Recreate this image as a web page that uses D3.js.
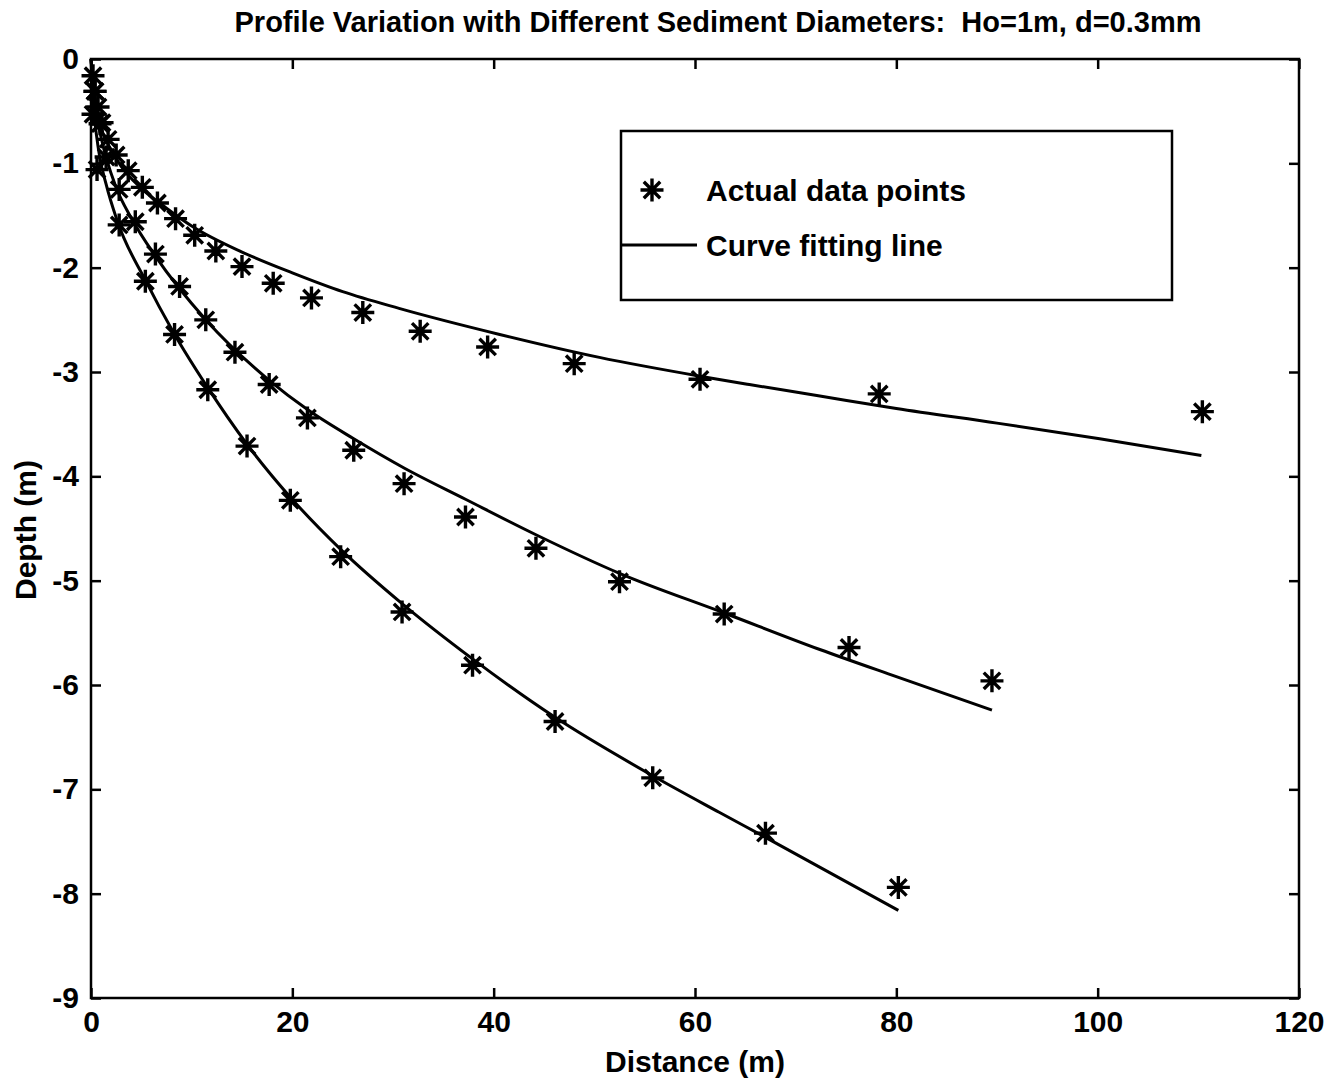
<!DOCTYPE html>
<html><head><meta charset="utf-8">
<script src="https://cdn.jsdelivr.net/npm/d3@7"></script>
<style>
body{margin:0;background:#fff}
text{font-family:"Liberation Sans",Arial,Helvetica,sans-serif;fill:#000;font-weight:bold;white-space:pre}
</style></head>
<body><svg id="chart" width="1340" height="1083"></svg>
<script>
// ---- data ----
const titleText = "Profile Variation with Different Sediment Diameters:  Ho=1m, d=0.3mm";
const xLabel = "Distance (m)";
const yLabel = "Depth (m)";
const xTicks = [0, 20, 40, 60, 80, 100, 120];
const yTicks = [0, -1, -2, -3, -4, -5, -6, -7, -8, -9];
const legendLabels = ["Actual data points", "Curve fitting line"];

// measured data points (three sediment sizes)
const ptsA_x = [0.2, 0.4, 0.7, 1.1, 1.7, 2.5, 3.7, 5.1, 6.6, 8.4, 10.3, 12.4, 15.0, 18.1, 21.9, 27.0, 32.7, 39.4, 48.0, 60.5, 78.3, 110.4];
const ptsA_y = [-0.16, -0.31, -0.46, -0.61, -0.77, -0.92, -1.07, -1.23, -1.38, -1.53, -1.69, -1.84, -1.99, -2.15, -2.29, -2.43, -2.61, -2.76, -2.92, -3.07, -3.21, -3.38];
const ptsB_x = [0.4, 0.9, 1.5, 2.8, 4.4, 6.4, 8.8, 11.4, 14.3, 17.7, 21.5, 26.1, 31.1, 37.2, 44.2, 52.5, 62.9, 75.3, 89.5];
const ptsB_y = [-0.31, -0.62, -0.94, -1.25, -1.56, -1.87, -2.18, -2.50, -2.81, -3.12, -3.44, -3.75, -4.07, -4.39, -4.69, -5.01, -5.32, -5.64, -5.96];
const ptsC_x = [0.2, 0.6, 2.8, 5.4, 8.3, 11.6, 15.5, 19.8, 24.8, 30.9, 37.9, 46.1, 55.8, 67.0, 80.2];
const ptsC_y = [-0.53, -1.06, -1.59, -2.13, -2.64, -3.17, -3.71, -4.23, -4.77, -5.30, -5.81, -6.35, -6.89, -7.42, -7.94];

// fitted curves
const fitA_x = [0, 0.5, 1, 2, 3, 5, 7.5, 10, 15, 20, 25, 30.6, 40.6, 50.5, 60.5, 65.4, 72.4, 80, 90, 100.2, 110.3];
const fitA_y = [0, -0.45, -0.66, -0.87, -1.03, -1.24, -1.43, -1.60, -1.85, -2.05, -2.23, -2.39, -2.64, -2.86, -3.04, -3.12, -3.23, -3.35, -3.49, -3.64, -3.80];
const fitB_x = [0, 0.5, 1, 2.45, 4.1, 6.4, 11.4, 17.7, 21.5, 26.1, 31.1, 37.2, 44.2, 52.5, 62.9, 72.4, 80, 89.5];
const fitB_y = [0, -0.5, -0.75, -1.22, -1.54, -1.89, -2.50, -3.08, -3.36, -3.64, -3.92, -4.22, -4.56, -4.93, -5.31, -5.66, -5.92, -6.24];
const fitC_x = [0, 0.3, 0.8, 1.5, 2.6, 5.4, 8.25, 11.6, 15.4, 19.8, 24.8, 30.9, 37.9, 46.1, 55.8, 62.4, 67.0, 80.2];
const fitC_y = [0, -0.5, -0.9, -1.2, -1.55, -2.12, -2.63, -3.15, -3.68, -4.20, -4.70, -5.22, -5.75, -6.31, -6.87, -7.22, -7.46, -8.16];

// ---- layout ----
const svg = d3.select("#chart");
const L = 91, T = 59, R = 1299, B = 998;
const x = d3.scaleLinear().domain([0, 120]).range([L, R]);
const y = d3.scaleLinear().domain([-9, 0]).range([B, T]);
const FS = 30;

const zip = (xs, ys) => xs.map((v, i) => [v, ys[i]]);

// frame
svg.append("rect").attr("x", L).attr("y", T).attr("width", R - L).attr("height", B - T)
  .attr("fill", "none").attr("stroke", "#000").attr("stroke-width", 2.5);

// axes with inward ticks
const tl = 10;
const gx = svg.append("g").attr("transform", `translate(0,${B})`)
  .call(d3.axisBottom(x).tickValues(xTicks).tickSize(-tl).tickPadding(13).tickFormat(d3.format("d")));
const gxt = svg.append("g").attr("transform", `translate(0,${T})`)
  .call(d3.axisTop(x).tickValues(xTicks).tickSize(-tl).tickFormat(""));
const gy = svg.append("g").attr("transform", `translate(${L},0)`)
  .call(d3.axisLeft(y).tickValues(yTicks).tickSize(-tl).tickPadding(12).tickFormat(d => d === 0 ? "0" : "-" + Math.abs(d)));
const gyr = svg.append("g").attr("transform", `translate(${R},0)`)
  .call(d3.axisRight(y).tickValues(yTicks).tickSize(-tl).tickFormat(""));
[gx, gxt, gy, gyr].forEach(g => {
  g.select(".domain").remove();
  g.selectAll(".tick line").attr("stroke", "#000").attr("stroke-width", 2.5);
  g.selectAll("text").attr("font-size", FS).attr("font-family", '"Liberation Sans",Arial,sans-serif')
    .attr("font-weight", "bold").attr("fill", "#000");
});

// curves
const line = d3.line().x(d => x(d[0])).y(d => y(d[1])).curve(d3.curveMonotoneX);
[[fitA_x, fitA_y], [fitB_x, fitB_y], [fitC_x, fitC_y]].forEach(([xs, ys]) => {
  svg.append("path").datum(zip(xs, ys)).attr("d", line)
    .attr("fill", "none").attr("stroke", "#000").attr("stroke-width", 3);
});

// star markers
const ms = 11.5, md = 8.2;
function star(g, cx, cy) {
  const p = `M${cx - ms},${cy}L${cx + ms},${cy}M${cx},${cy - ms}L${cx},${cy + ms}` +
    `M${cx - md},${cy - md}L${cx + md},${cy + md}M${cx - md},${cy + md}L${cx + md},${cy - md}`;
  g.append("path").attr("d", p).attr("stroke", "#000").attr("stroke-width", 3.4).attr("fill", "none");
}
const gm = svg.append("g");
[[ptsA_x, ptsA_y], [ptsB_x, ptsB_y], [ptsC_x, ptsC_y]].forEach(([xs, ys]) => {
  zip(xs, ys).forEach(d => star(gm, x(d[0]), y(d[1])));
});

// legend
const lg = svg.append("g");
lg.append("rect").attr("x", 621).attr("y", 131).attr("width", 551).attr("height", 169)
  .attr("fill", "#fff").attr("stroke", "#000").attr("stroke-width", 2.5);
star(lg, 652, 190);
lg.append("line").attr("x1", 622).attr("x2", 697).attr("y1", 245).attr("y2", 245)
  .attr("stroke", "#000").attr("stroke-width", 3);
legendLabels.forEach((t, i) => {
  lg.append("text").attr("x", 706).attr("y", 190 + i * 55).attr("dy", "0.35em")
    .attr("font-size", FS).text(t);
});

// title and axis labels
svg.append("text").attr("x", 718).attr("y", 32).attr("text-anchor", "middle")
  .attr("font-size", 29).text(titleText);
svg.append("text").attr("x", 695).attr("y", 1072).attr("text-anchor", "middle")
  .attr("font-size", FS).text(xLabel);
svg.append("text").attr("transform", `translate(36,530) rotate(-90)`).attr("text-anchor", "middle")
  .attr("font-size", FS).text(yLabel);
</script></body></html>
